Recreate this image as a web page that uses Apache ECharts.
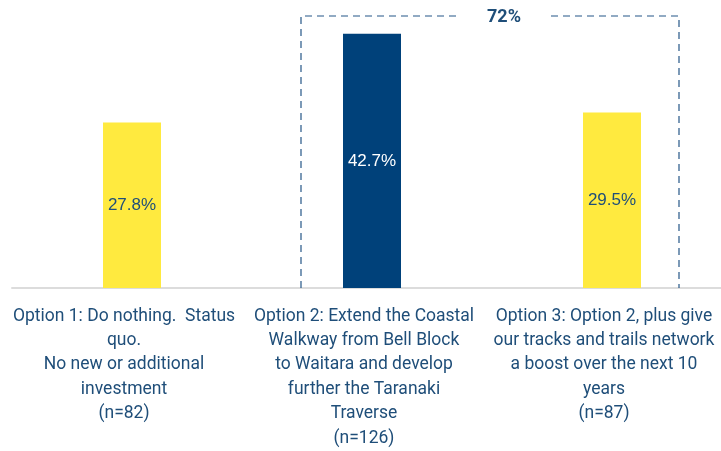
<!DOCTYPE html>
<html>
<head>
<meta charset="utf-8">
<script src="https://cdn.jsdelivr.net/npm/echarts@6/dist/echarts.min.js"></script>
<style>
  html, body { margin: 0; padding: 0; background: #ffffff; }
  #chart { width: 721px; height: 451px; }
</style>
</head>
<body>
<div id="chart"></div>
<script>
// Support for each walkway / trails option
const categories = [
  'Option 1: Do nothing.  Status\nquo.\nNo new or additional\ninvestment\n(n=82)',
  'Option 2: Extend the Coastal\nWalkway from Bell Block\nto Waitara and develop\nfurther the Taranaki\nTraverse\n(n=126)',
  'Option 3: Option 2, plus give\nour tracks and trails network\na boost over the next 10\nyears\n(n=87)'
];
const values = [27.8, 42.7, 29.5];
const barColors = ['#FFEA3F', '#00417A', '#FFEA3F'];
const labelColors = ['#1F4E79', '#FFFFFF', '#1F4E79'];
// Options 2 and 3 are grouped under a combined total
const groupIndices = [1, 2];

const TEXT = '#1F4E79';
const chart = echarts.init(document.getElementById('chart'));

// Three 240px category slots; the last one runs past the right edge
chart.setOption({
  animation: false,
  grid: {
    left: 12, width: 720, top: 16, bottom: 163,
    containLabel: false,
    outerBoundsMode: 'none'
  },
  xAxis: {
    type: 'category',
    data: categories,
    axisLine: { lineStyle: { color: '#DCDCDC', width: 2 } },
    axisTick: { show: false },
    axisLabel: {
      interval: 0,
      margin: 16,
      color: TEXT,
      fontFamily: 'Roboto',
      fontSize: 17.5,
      lineHeight: 24.4,
      align: 'center',
      // text block sits slightly left of the bar centre
      padding: [0, 16, 0, 0]
    }
  },
  yAxis: {
    type: 'value',
    min: 0,
    max: 45.7,
    show: false,
    splitLine: { show: false }
  },
  series: [{
    type: 'bar',
    barWidth: 58,
    data: values.map((v, i) => ({
      value: v,
      itemStyle: { color: barColors[i] },
      label: { color: labelColors[i] }
    })),
    label: {
      show: true,
      position: 'inside',
      formatter: p => p.value.toFixed(1) + '%',
      fontFamily: 'Liberation Sans',
      fontSize: 17
    }
  }]
});

// Dashed bracket around the grouped options with their combined share
function drawBracket() {
  const first = groupIndices[0];
  const last = groupIndices[groupIndices.length - 1];
  const xFirst = chart.convertToPixel({ xAxisIndex: 0 }, first);
  const xLast = chart.convertToPixel({ xAxisIndex: 0 }, last);
  const yBase = chart.convertToPixel({ yAxisIndex: 0 }, 0);
  const yTop = chart.convertToPixel({ yAxisIndex: 0 }, 45.7);
  const left = xFirst - 71;
  const right = xLast + 67;
  const total = Math.round(groupIndices.reduce((s, i) => s + values[i], 0));
  const mid = (left + right) / 2 + 14;
  const gap = 47;
  const dash = { stroke: '#255788', lineWidth: 1.2, lineDash: [7, 5] };

  chart.setOption({
    graphic: [
      {
        type: 'polyline',
        silent: true,
        shape: { points: [[left, yBase], [left, yTop], [mid - gap, yTop]] },
        style: dash,
        z: 1
      },
      {
        type: 'polyline',
        silent: true,
        shape: { points: [[mid + gap, yTop], [right, yTop], [right, yBase]] },
        style: dash,
        z: 1
      },
      {
        type: 'text',
        silent: true,
        x: mid,
        y: yTop + 1,
        style: {
          text: total + '%',
          fill: '#1F4E79',
          fontFamily: 'Roboto',
          fontWeight: 'bold',
          fontSize: 18,
          align: 'center',
          verticalAlign: 'middle'
        },
        z: 2
      }
    ]
  });
}
drawBracket();
</script>
</body>
</html>
